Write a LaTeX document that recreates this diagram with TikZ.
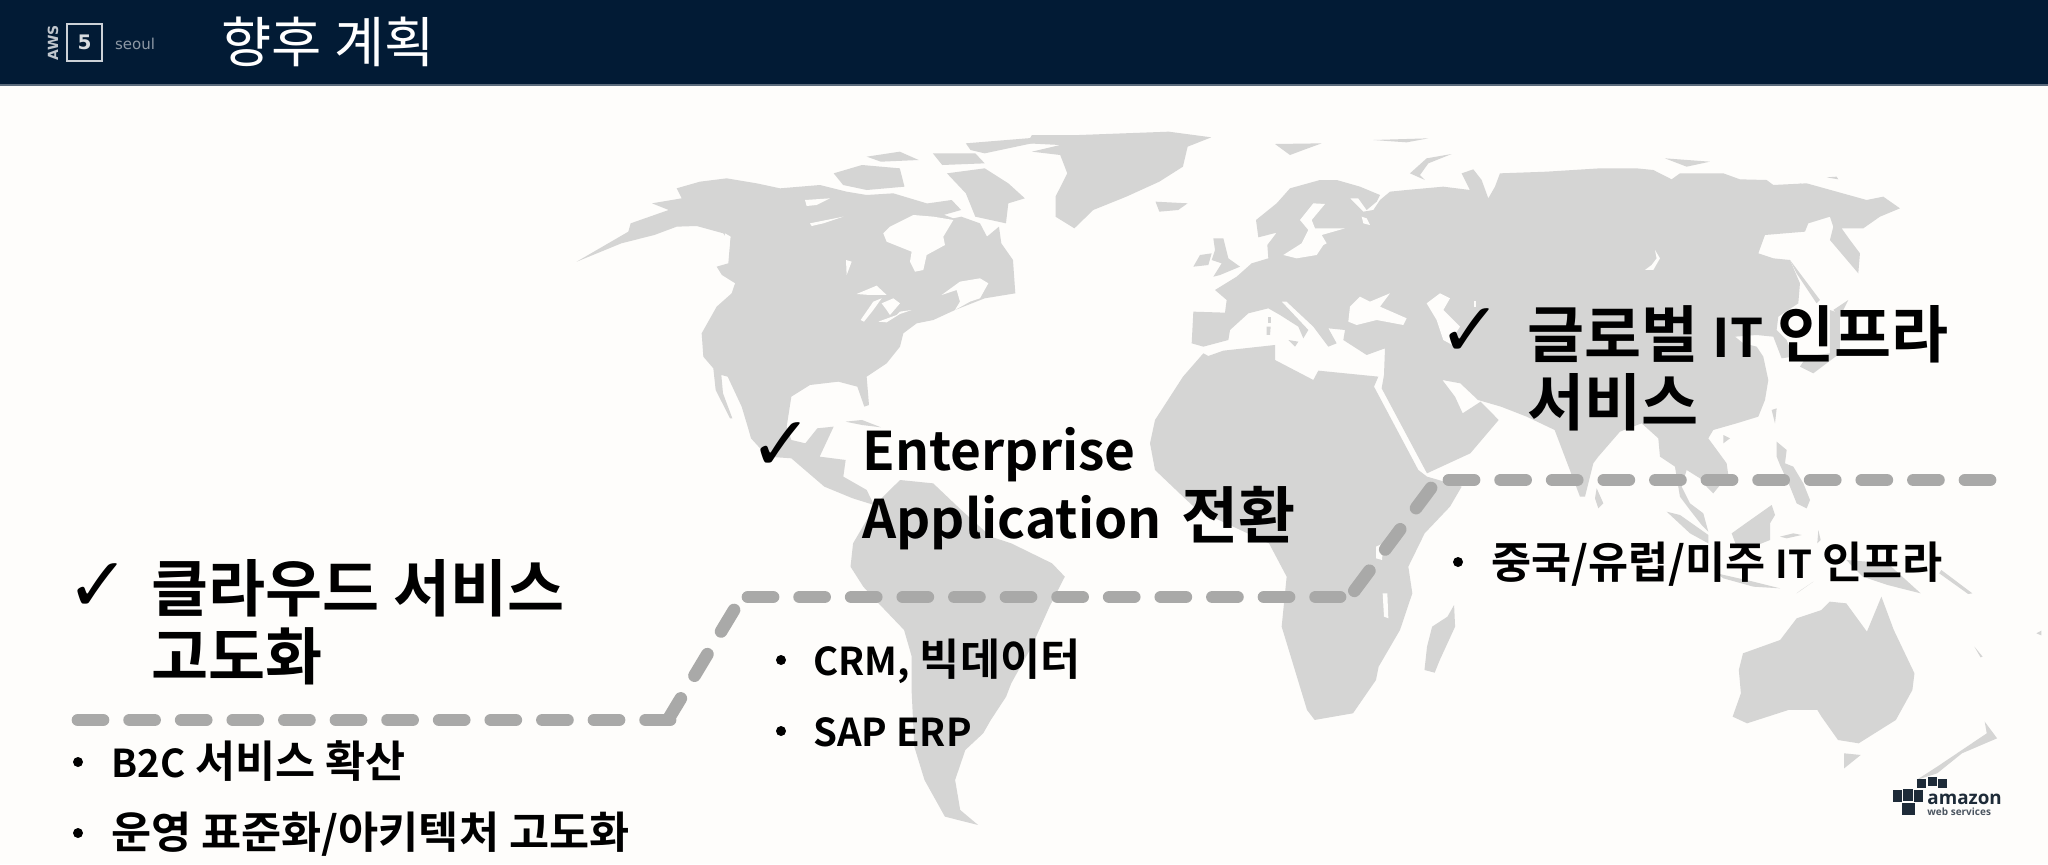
\documentclass[tikz,border=0pt]{standalone}
\usepackage{fontspec}
\setmainfont{Noto Sans CJK KR}
\newfontfamily\krbold{Noto Sans CJK KR Bold}
\newfontfamily\djsans{DejaVu Sans}
\newfontfamily\latinb{Open Sans}
\newcommand{\hk}[1]{{\fontsize{31}{34}\selectfont #1}}
\newcommand{\ik}[1]{{\fontsize{21.8}{23}\selectfont #1}}
\definecolor{bgc}{HTML}{FEFDFB}
\definecolor{headc}{HTML}{021B35}
\definecolor{landc}{HTML}{D5D5D4}
\definecolor{dashc}{HTML}{A9A9A8}
\definecolor{logoc}{HTML}{1E2B38}
\tikzset{
 zthree/.style={shift={(560,110)},xscale=0.4719,yscale=0.3333},
 zfive/.style={shift={(700,480)},xscale=0.5102,yscale=0.3333},
 zsix/.style={shift={(1400,460)},xscale=0.4132,yscale=0.3333},
 zA/.style={shift={(1180,130)},scale=0.3333},
 zC/.style={shift={(660,120)},scale=0.3333},
 zD/.style={shift={(1580,400)},scale=0.3333},
 land/.style={fill=landc,draw=none},
 hole/.style={fill=bgc,draw=none},
 route/.style={draw=dashc,line width=6.35pt,line cap=round,dash pattern=on 12.5pt off 13.3pt},
 heading/.style={font=\krbold\fontsize{26.6}{34}\selectfont,text=black,align=left,inner sep=0pt,anchor=north west},
 item/.style={font=\krbold\fontsize{19.2}{23}\selectfont,text=black,inner sep=0pt,anchor=base west},
 tick/.style={font=\djsans\fontsize{38}{38}\selectfont,text=black,inner sep=0pt},
 dotb/.style={circle,fill=black,inner sep=0pt,minimum size=5pt},
 cube/.style={fill=logoc,draw=none}
}
\begin{document}
\begin{tikzpicture}[x=0.5pt,y=-0.5pt]
\useasboundingbox (0,0) rectangle (2048,864);
\fill[bgc] (0,0) rectangle (2048,864);
% North America
\begin{scope}[zC]
\fill[land] (-250,425)--(-116,370)--(-17,345)--(50,320)--(110,318)--(190,340)--(210,370)--(205,430)--(170,440)--(195,480)--(225,490)--(215,520)--(170,560)--(125,640)--(130,710)--(160,745)--(167,810)--(210,895)--(217,895)--(189,820)--(184,765)--(203,770)--(245,860)--(266,930)--(273,955)--(323,1010)--(394,1015)--(493,1100)--(578,1135)--(642,1155)--(620,1110)--(550,1070)--(557,1020)--(479,1010)--(521,920)--(472,925)--(436,970)--(394,960)--(380,920)--(394,830)--(450,795)--(535,785)--(592,800)--(613,860)--(627,855)--(620,770)--(680,730)--(720,680)--(730,640)--(770,610)--(820,600)--(885,570)--(974,535)--(1066,520)--(1059,420)--(1024,370)--(1017,320)--(981,350)--(960,310)--(904,290)--(880,295)--(840,280)--(870,260)--(800,250)--(700,220)--(620,225)--(560,215)--(480,195)--(360,205)--(290,190)--(200,175)--(120,185)--(50,205)--(65,235)--(-24,250)--(26,270)--(-88,310)--(-95,335)--cycle;
\fill[hole] (670,340)--(690,320)--(760,285)--(820,290)--(880,300)--(850,350)--(855,375)--(800,405)--(790,450)--(765,455)--(750,425)--(755,395)--(680,365)--cycle;
\fill[hole] (845,525)--(900,485)--(960,475)--(985,490)--(960,535)--(930,545)--(885,570)--(900,545)--(890,510)--cycle;
\fill[hole] (435,240)--(510,235)--(470,255)--(440,258)--cycle;
\fill[hole] (450,310)--(550,290)--(490,310)--(455,318)--cycle;
\fill[hole] (558,420)--(575,425)--(560,465)--cycle;
\fill[hole] (590,522)--(650,497)--(680,525)--(630,525)--cycle;
\fill[hole] (602,600)--(640,545)--(665,535)--(640,570)--(612,605)--cycle;
\fill[hole] (665,550)--(700,535)--(720,550)--(690,585)--(680,570)--cycle;
\fill[hole] (655,605)--(710,585)--(720,575)--(755,570)--(720,582)--(680,607)--cycle;
\fill[hole] (195,340)--(212,350)--(205,400)--(170,440)--(165,425)--(190,390)--cycle;
\fill[hole] (185,465)--(225,490)--(215,505)--(195,495)--cycle;
\fill[hole] (735,640)--(745,645)--(730,670)--cycle;
\end{scope}
% Arctic islands, Greenland
\begin{scope}[zthree]
\fill[land] (580,190)--(640,165)--(720,175)--(730,230)--(650,240)--(600,225)--cycle;
\fill[land] (650,140)--(720,125)--(760,150)--(680,155)--cycle;
\fill[land] (860,100)--(990,85)--(1080,75)--(1000,100)--(900,130)--(870,120)--cycle;
\fill[land] (790,130)--(880,130)--(900,160)--(810,165)--cycle;
\fill[land] (820,190)--(900,175)--(950,220)--(985,265)--(950,280)--(945,340)--(880,320)--(860,250)--cycle;
\fill[land] (780,280)--(830,270)--(850,300)--(800,320)--cycle;
\fill[land] (605,935)--(640,930)--(680,952)--(640,945)--cycle;
\fill[land] (1000,75)--(1100,75)--(1290,65)--(1380,82)--(1330,110)--(1320,170)--(1270,215)--(1200,260)--(1130,300)--(1090,355)--(1050,320)--(1050,260)--(1075,190)--(1060,135)--(1000,125)--(1060,105)--(990,100)--cycle;
\fill[land] (1262,275)--(1330,280)--(1310,300)--(1270,305)--cycle;
\end{scope}
% Eurasia and Africa
\begin{scope}[zA]
\fill[land] (40,545)--(135,548)--(140,510)--(105,480)--(170,440)--(215,400)--(265,385)--(262,345)--(290,308)--(305,350)--(300,380)--(290,308)--(235,322)--(228,270)--(290,220)--(330,175)--(420,150)--(470,150)--(540,170)--(600,195)--(590,215)--(560,240)--(535,205)--(510,205)--(550,245)--(580,240)--(600,210)--(630,185)--(680,180)--(790,170)--(870,180)--(845,130)--(880,118)--(905,150)--(925,205)--(945,170)--(960,130)--(1100,125)--(1260,115)--(1370,115)--(1420,120)--(1475,148)--(1500,130)--(1630,130)--(1680,148)--(1760,150)--(1780,165)--(1880,160)--(2060,210)--(2110,200)--(2160,235)--(2100,260)--(2050,295)--(1985,295)--(2010,330)--(2040,370)--(2035,430)--(1950,330)--(1960,290)--(1950,260)--(1885,280)--(1875,305)--(1755,315)--(1735,370)--(1780,385)--(1830,390)--(1860,460)--(1855,520)--(1795,560)--(1790,600)--(1820,630)--(1840,680)--(1805,685)--(1780,620)--(1730,615)--(1665,620)--(1690,640)--(1730,650)--(1750,680)--(1765,750)--(1755,810)--(1735,860)--(1670,880)--(1600,900)--(1585,925)--(1640,1000)--(1645,1035)--(1600,1090)--(1580,1070)--(1560,1045)--(1520,1020)--(1505,1070)--(1530,1120)--(1570,1150)--(1585,1205)--(1565,1185)--(1530,1140)--(1500,1100)--(1485,1010)--(1440,980)--(1435,925)--(1385,880)--(1320,905)--(1255,980)--(1240,1000)--(1215,1100)--(1200,1100)--(1162,1000)--(1124,900)--(1040,860)--(963,830)--(894,810)--(841,760)--(787,750)--(825,800)--(848,850)--(902,815)--(956,870)--(871,970)--(741,1030)--(605,775)--(612,735)--(615,655)--(560,675)--(490,630)--(495,600)--(445,595)--(470,640)--(445,650)--(400,590)--(320,515)--(305,515)--(385,600)--(370,625)--(355,590)--(300,555)--(265,535)--(205,550)--(150,600)--(145,630)--(70,650)--(35,640)--cycle;
\fill[land] (70,670)--(85,678)--(130,662)--(285,645)--(285,690)--(400,750)--(415,722)--(595,740)--(582,770)--(715,1020)--(741,1040)--(845,1070)--(810,1130)--(734,1210)--(685,1310)--(697,1390)--(660,1500)--(596,1610)--(588,1650)--(519,1750)--(404,1770)--(381,1740)--(305,1490)--(320,1340)--(267,1240)--(52,1140)--(9,1100)--(-75,1020)--(-90,940)--(-75,870)--(9,740)--cycle;
\fill[hole] (505,575)--(510,530)--(540,500)--(570,515)--(630,490)--(600,530)--(680,565)--(670,585)--(590,570)--(530,585)--cycle;
\fill[hole] (740,520)--(780,490)--(810,505)--(790,540)--(840,590)--(820,620)--(835,655)--(790,630)--(770,570)--cycle;
\fill[hole] (435,222)--(400,220)--(360,270)--(385,300)--(365,340)--(310,375)--(350,385)--(410,375)--(430,345)--(440,340)--(425,315)--(495,295)--(405,295)--(395,270)--cycle;
\fill[hole] (545,260)--(560,265)--(570,285)--(550,280)--cycle;
\fill[hole] (1425,360)--(1440,385)--(1420,420)--(1395,420)--(1415,405)--(1430,385)--cycle;
\fill[hole] (882,512)--(888,512)--(888,530)--(882,530)--cycle;
\fill[hole] (588,1250)--(610,1240)--(606,1290)--(588,1285)--cycle;
\fill[hole] (608,1390)--(622,1390)--(625,1465)--(612,1460)--cycle;
\fill[land] (100,325)--(130,325)--(145,385)--(180,410)--(120,435)--(100,440)--(125,400)--(95,390)--(105,360)--cycle;
\fill[land] (40,410)--(60,375)--(95,370)--(85,405)--cycle;
\fill[land] (265,560)--(272,560)--(272,580)--(265,580)--cycle;
\fill[land] (260,590)--(272,590)--(270,615)--(260,615)--cycle;
\fill[land] (325,630)--(355,635)--(345,650)--cycle;
\fill[land] (690,130)--(740,85)--(815,72)--(745,100)--(720,135)--(735,150)--cycle;
\fill[land] (285,42)--(425,40)--(370,60)--(330,75)--cycle;
\fill[land] (580,30)--(745,25)--(680,37)--cycle;
\fill[land] (1455,85)--(1590,95)--(1520,110)--cycle;
\fill[land] (1940,142)--(1970,140)--(1975,148)--cycle;
\fill[land] (1860,160)--(1900,175)--(1880,178)--cycle;
\fill[land] (1950,540)--(1980,550)--(1980,670)--(1900,730)--(1860,710)--(1880,680)--(1950,670)--cycle;
\fill[land] (1830,390)--(1920,510)--(1910,520)--(1850,430)--cycle;
\fill[land] (1960,540)--(2005,510)--(1980,560)--cycle;
\end{scope}
% South America, Madagascar
\begin{scope}[zfive]
\fill[land] (392,0)--(457,10)--(512,90)--(570,170)--(610,190)--(690,250)--(715,290)--(685,380)--(650,500)--(610,610)--(600,650)--(570,720)--(555,760)--(520,810)--(500,900)--(510,990)--(545,1035)--(480,1010)--(440,900)--(420,800)--(415,640)--(415,530)--(400,450)--(350,370)--(320,320)--(295,260)--(300,190)--(346,70)--cycle;
\fill[land] (1478,375)--(1480,440)--(1450,540)--(1440,578)--(1420,570)--(1425,500)--(1435,440)--(1465,410)--cycle;
\end{scope}
% SE Asia islands
\begin{scope}[zD]
\fill[land] (260,335)--(300,345)--(385,405)--(385,430)--(330,400)--cycle;
\fill[land] (455,400)--(490,375)--(575,315)--(585,345)--(570,370)--(570,420)--(520,440)--(470,440)--cycle;
\fill[land] (590,125)--(620,150)--(615,190)--(640,200)--(670,250)--(690,300)--(680,325)--(650,310)--(630,260)--(600,195)--(590,170)--cycle;
\fill[land] (430,105)--(450,115)--(430,130)--cycle;
\fill[land] (575,30)--(590,25)--(585,70)--cycle;
\fill[land] (50,265)--(70,310)--(55,325)--(45,295)--cycle;
\fill[land] (600,410)--(640,400)--(665,405)--(620,415)--cycle;
\fill[land] (715,390)--(722,420)--(712,430)--cycle;
\fill[land] (410,520)--(520,545)--(600,565)--(520,560)--(430,535)--cycle;
\fill[land] (650,580)--(700,545)--(660,572)--cycle;
\end{scope}
% Oceania
\begin{scope}[zsix]
\fill[land] (820,630)--(830,580)--(920,540)--(960,475)--(1020,450)--(1040,425)--(1080,430)--(1130,515)--(1165,410)--(1195,510)--(1245,640)--(1240,690)--(1200,780)--(1110,850)--(1060,840)--(1020,770)--(1010,750)--(940,750)--(840,790)--(805,770)--(825,700)--cycle;
\fill[land] (1075,880)--(1115,885)--(1075,925)--cycle;
\fill[land] (1415,785)--(1445,835)--(1360,880)--(1300,940)--(1250,960)--(1300,920)--(1360,870)--(1420,820)--cycle;
\fill[land] (1540,520)--(1552,512)--(1552,526)--cycle;
\fill[land] (1390,560)--(1410,590)--(1405,592)--cycle;
\fill[land] (1080,300)--(1180,310)--(1260,400)--(1180,375)--(1120,350)--cycle;
\fill[land] (1310,330)--(1385,400)--(1375,402)--(1305,340)--cycle;
\end{scope}
% header
\fill[headc] (0,0) rectangle (2048,84);
\fill[headc!65!white] (0,84) rectangle (2048,86);
\node[font=\djsans\bfseries\fontsize{7}{7}\selectfont,text=white!75!headc,rotate=90,inner sep=0pt] (awslabel) at (53,43) {AWS};
\node[draw=white!80!headc,line width=1.1pt,minimum width=17.5pt,minimum height=18.5pt,inner sep=0pt,font=\djsans\bfseries\fontsize{10}{10}\selectfont,text=white!85!headc] (awsbox) at (84.5,42.5) {5};
\node[font=\djsans\fontsize{7.5}{7.5}\selectfont,text=white!55!headc,inner sep=0pt] (seoullabel) at (135,44) {seoul};
\node[font=\fontsize{27.3}{27.3}\selectfont,text=white,inner sep=0pt,anchor=base west] (title) at (221,62) {향후 계획};
% route
\coordinate (ra) at (78,720);
\coordinate (rb) at (670,720);
\coordinate (rc) at (734,610);
\coordinate (rd) at (669,718);
\coordinate (re) at (748,597);
\coordinate (rf) at (1340,597);
\coordinate (rg) at (1431,488);
\coordinate (rh) at (1349,598);
\coordinate (ri) at (1449,480);
\coordinate (rj) at (1990,480);
\draw[route] (ra) -- (rb);
\draw[route] (rc) -- (rd);
\draw[route] (re) -- (rf);
\draw[route] (rg) -- (rh);
\draw[route] (ri) -- (rj);
% texts
\node[tick] (ck1) at (98,588) {✓};
\node[heading] (h1) at (151,559) {\hk{클라우드 서비스}\\\hk{고도화}};
\node[tick] (ck2) at (781,447) {✓};
\node[heading] (h2) at (862,427) {Enterprise\\Application\hspace{3pt}\hk{ 전환}};
\node[tick] (ck3) at (1470,333) {✓};
\node[heading] (h3) at (1527,305) {\hk{글로벌 }IT\hk{ 인프라}\\\hk{서비스}};
\node[dotb] (d1) at (78,762) {};
\node[item] (t1) at (111,777) {B2C\ik{ 서비스 확산}};
\node[dotb] (d2) at (78,833) {};
\node[item] (t2) at (111,848) {\ik{운영 표준화/아키텍처 고도화}};
\node[dotb] (d3) at (781,660) {};
\node[item] (t3) at (813,675) {CRM,\ik{ 빅데이터}};
\node[dotb] (d4) at (781,731) {};
\node[item] (t4) at (813,746) {SAP ERP};
\node[dotb] (d5) at (1458,562) {};
\node[item] (t5) at (1491,578) {\ik{중국/유럽/미주 }IT\ik{ 인프라}};
% amazon logo
\fill[cube] (1917,779) rectangle (1926,788);
\fill[cube] (1928,777) rectangle (1937,786);
\fill[cube] (1938,779) rectangle (1947,788);
\fill[cube] (1893,790) rectangle (1902,802);
\fill[cube] (1903,789) rectangle (1913,801);
\fill[cube] (1914,790) rectangle (1923,802);
\fill[cube] (1902,803) rectangle (1915,815);
\node[font=\latinb\bfseries\fontsize{9.4}{9.4}\selectfont,text=logoc,inner sep=0pt,anchor=base west] (amz) at (1927,804) {amazon};
\node[font=\latinb\bfseries\fontsize{5}{5}\selectfont,text=logoc!80!white,inner sep=0pt,anchor=base west] (aws) at (1927,815) {web services};
\end{tikzpicture}
\end{document}
